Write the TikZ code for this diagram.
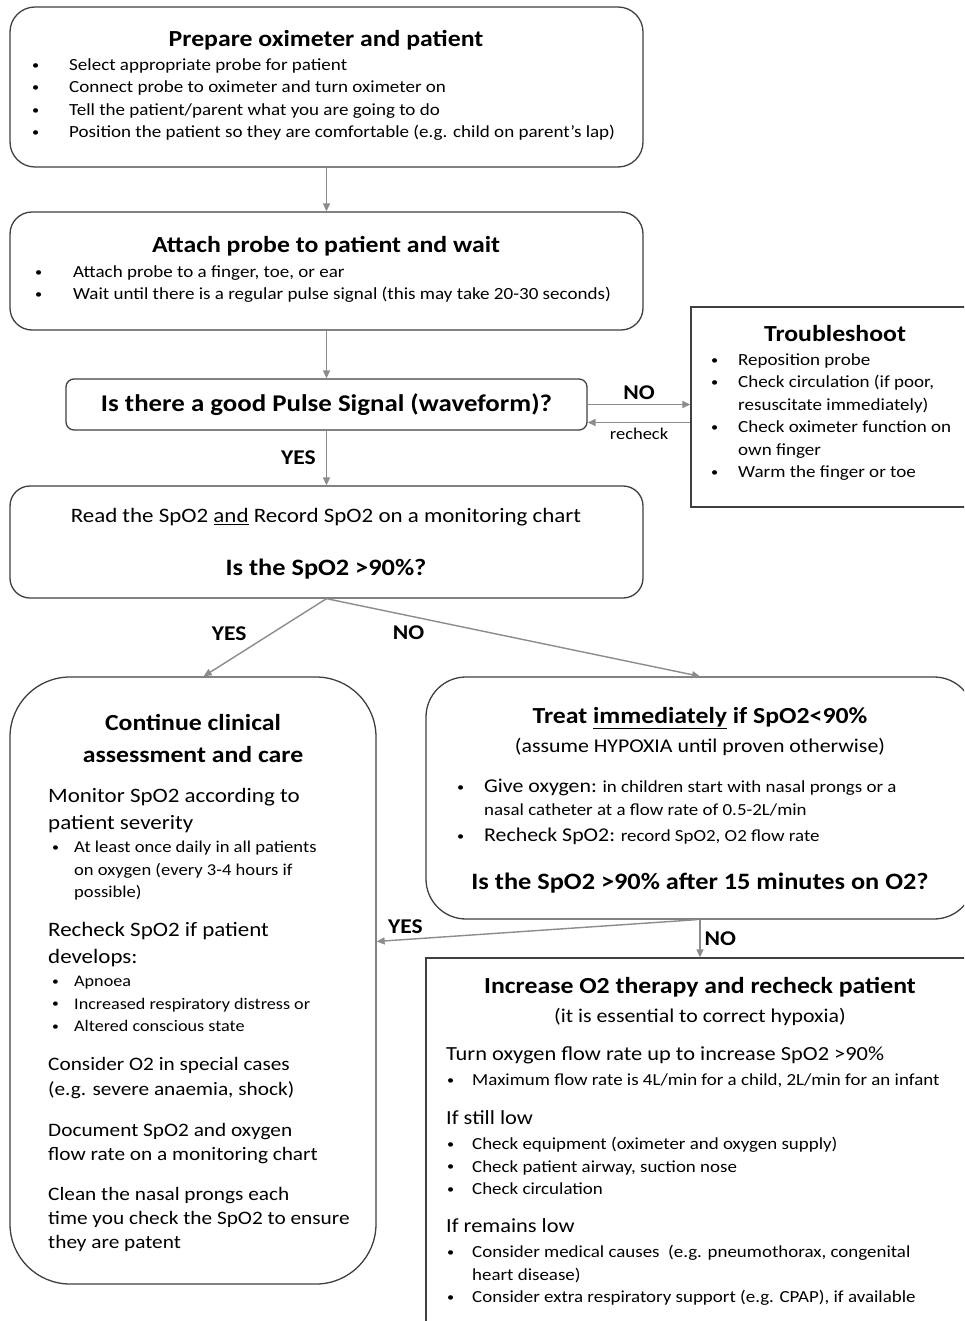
\documentclass[tikz,border=0pt]{standalone}
\usepackage{fontspec}
\setmainfont{Carlito}[FakeStretch=1.12]
\usetikzlibrary{arrows.meta}
\usetikzlibrary{positioning}
\tikzset{box/.style = {draw=black!75, line width=1.3pt, fill=white, inner sep=0}}
\tikzset{flow/.style = {draw=black!45, line width=1.4pt, -{Triangle[length=8pt, width=7pt]}}}
\tikzset{txt/.style = {inner sep=0, anchor=north west, align=left}}
\tikzset{ttl/.style = {inner sep=0, font=\bfseries\fontsize{23}{32}\selectfont, align=center}}
\tikzset{lbl/.style = {inner sep=0, font=\bfseries\fontsize{21}{25}\selectfont}}
\newcommand{\bul}[1]{\makebox[#1pt][l]{\hspace*{1pt}\raisebox{1.2pt}{\scalebox{0.75}{\textbullet}}}}

\begin{document}
\begin{tikzpicture}[x=1pt, y=-1pt]
  \fill[white] (0,0) rectangle (964,1321);
  \useasboundingbox (0,0) rectangle (964,1321);
  \clip (0,0) rectangle (964,1321);

  % prepare
  \node[box, rounded corners=25pt, minimum width=633pt, minimum height=160pt] (prep) at (326.5,87) {};
  \node[ttl] (prep-t) at (326,40) {Prepare oximeter and patient};
  \node[txt, font={\fontsize{17}{22.4}\selectfont}] (prep-l) at (31,58.5)
    {\bul{38}Select appropriate probe for patient\\
     \bul{38}Connect probe to oximeter and turn oximeter on\\
     \bul{38}Tell the patient/parent what you are going to do\\
     \bul{38}Position the patient so they are comfortable (e.g. child on parent’s lap)};

  % attach
  \node[box, rounded corners=22pt, minimum width=633pt, minimum height=118pt] (attach) at (326.5,271) {};
  \node[ttl] (attach-t) at (326,246) {Attach probe to patient and wait};
  \node[txt, font={\fontsize{17}{22.4}\selectfont}] (attach-l) at (34,265.5)
    {\bul{39}Attach probe to a finger, toe, or ear\\
     \bul{39}Wait until there is a regular pulse signal (this may take 20-30 seconds)};

  % pulse signal
  \node[box, rounded corners=8pt, minimum width=521pt, minimum height=51pt,
    font={\bfseries\fontsize{24}{26}\selectfont}] (pulse) at (326.5,404.5)
    {Is there a good Pulse Signal (waveform)?};

  % troubleshoot
  \node[box, minimum width=288pt, minimum height=200pt] (trouble) at (835,407) {};
  \node[ttl] (trouble-t) at (835,334) {Troubleshoot};
  \node[txt, font={\fontsize{17}{22.4}\selectfont}] (trouble-l) at (710,353.5)
    {\bul{28}Reposition probe\\
     \bul{28}Check circulation (if poor,\\
     \hspace*{28pt}resuscitate immediately)\\
     \bul{28}Check oximeter function on\\
     \hspace*{28pt}own finger\\
     \bul{28}Warm the finger or toe};

  % read
  \node[box, rounded corners=20pt, minimum width=633pt, minimum height=112pt] (read) at (326.5,542) {};
  \node[inner sep=0, font={\fontsize{20.5}{22}\selectfont}] (read-a) at (326,517)
    {Read the SpO2 \underline{and} Record SpO2 on a monitoring chart};
  \node[inner sep=0, font={\bfseries\fontsize{23.5}{26}\selectfont}] (read-b) at (326,569)
    {Is the SpO2 >90\%?};

  % continue
  \node[box, rounded corners=60pt, minimum width=366pt, minimum height=607pt] (cont) at (193,980.5) {};
  \node[ttl] (cont-t) at (193,738) {Continue clinical\\assessment and care};
  \node[txt, font={\fontsize{20.5}{27}\selectfont}] (cont-a) at (48,788)
    {Monitor SpO2 according to\\patient severity};
  \node[txt, font={\fontsize{16.6}{22.5}\selectfont}] (cont-b) at (51,841)
    {\bul{23}At least once daily in all patients\\
     \hspace*{23pt}on oxygen (every 3-4 hours if\\
     \hspace*{23pt}possible)};
  \node[txt, font={\fontsize{20.5}{27}\selectfont}] (cont-c) at (48,922)
    {Recheck SpO2 if patient\\develops:};
  \node[txt, font={\fontsize{16.2}{22.5}\selectfont}] (cont-d) at (51,976)
    {\bul{23}Apnoea\\
     \bul{23}Increased respiratory distress or\\
     \bul{23}Altered conscious state};
  \node[txt, font={\fontsize{19}{25}\selectfont}] (cont-e) at (48,1057.5)
    {Consider O2 in special cases\\(e.g. severe anaemia, shock)};
  \node[txt, font={\fontsize{19}{24}\selectfont}] (cont-f) at (48,1123.5)
    {Document SpO2 and oxygen\\flow rate on a monitoring chart};
  \node[txt, font={\fontsize{19}{24}\selectfont}] (cont-g) at (48,1187.5)
    {Clean the nasal prongs each\\time you check the SpO2 to ensure\\they are patent};

  % treat
  \node[box, rounded corners=40pt, minimum width=548pt, minimum height=242pt] (treat) at (700,798) {};
  \node[ttl] (treat-t) at (700,718) {Treat \underline{immediately} if SpO2<90\%};
  \node[inner sep=0, font={\fontsize{19.5}{24}\selectfont}] (treat-s) at (700,747)
    {(assume HYPOXIA until proven otherwise)};
  \node[txt, font={\fontsize{16.9}{22.5}\selectfont}] (treat-a) at (456,779)
    {\bul{28}{\fontsize{19.5}{22.5}\selectfont Give oxygen:} in children start with nasal prongs or a\\
     \hspace*{28pt}nasal catheter at a flow rate of 0.5-2L/min};
  \node[txt, font={\fontsize{16.9}{22.5}\selectfont}] (treat-b) at (456,828)
    {\bul{28}{\fontsize{19.5}{22.5}\selectfont Recheck SpO2:} record SpO2, O2 flow rate};
  \node[inner sep=0, font={\bfseries\fontsize{23.5}{26}\selectfont}] (treat-q) at (700,883)
    {Is the SpO2 >90\% after 15 minutes on O2?};

  % increase
  \node[box, minimum width=548pt, minimum height=400pt] (incr) at (700,1158) {};
  \node[ttl] (incr-t) at (700,987) {Increase O2 therapy and recheck patient};
  \node[inner sep=0, font={\fontsize{19.5}{24}\selectfont}] (incr-s) at (700,1017)
    {(it is essential to correct hypoxia)};
  \node[txt, font={\fontsize{20}{24}\selectfont}] (incr-a) at (446,1047)
    {Turn oxygen flow rate up to increase SpO2 >90\%};
  \node[txt, font={\fontsize{16.9}{22.5}\selectfont}] (incr-b) at (446,1074)
    {\bul{26}Maximum flow rate is 4L/min for a child, 2L/min for an infant};
  \node[txt, font={\fontsize{20}{24}\selectfont}] (incr-c) at (446,1110)
    {If still low};
  \node[txt, font={\fontsize{16.9}{22.5}\selectfont}] (incr-d) at (446,1137)
    {\bul{26}Check equipment (oximeter and oxygen supply)\\
     \bul{26}Check patient airway, suction nose\\
     \bul{26}Check circulation};
  \node[txt, font={\fontsize{20}{24}\selectfont}] (incr-e) at (446,1218)
    {If remains low};
  \node[txt, font={\fontsize{16.9}{22.5}\selectfont}] (incr-f) at (446,1245)
    {\bul{26}Consider medical causes~ (e.g. pneumothorax, congenital\\
     \hspace*{26pt}heart disease)\\
     \bul{26}Consider extra respiratory support (e.g. CPAP), if available};

  % connectors
  \draw[flow] (prep) -- (attach);
  \draw[flow] (attach) -- (pulse);
  \draw[flow] (pulse.east) -- (pulse.east -| trouble.west)
    node[lbl, midway, above=4pt] (no-a) {NO};
  \draw[flow] ([yshift=-18pt]pulse.east -| trouble.west) -- ([yshift=-18pt]pulse.east)
    node[midway, below=5pt, inner sep=0, font={\fontsize{16.5}{20}\selectfont}] (recheck) {recheck};
  \draw[flow] (pulse) -- (read)
    node[lbl, midway, left=10pt] (yes-a) {YES};
  \draw[flow] (read.south) -- (cont.88)
    node[lbl, pos=0.45, left=24pt] (yes-b) {YES};
  \draw[flow] (read.south) -- (treat.north)
    node[lbl, pos=0.22, below=9pt] (no-b) {NO};
  \draw[flow] ([xshift=-3pt]treat.south) -- (cont.12)
    node[lbl, pos=0.91, above=5pt] (yes-c) {YES};
  \draw[flow] (treat) -- (incr)
    node[lbl, midway, right=4pt] (no-c) {NO};
\end{tikzpicture}
\end{document}
